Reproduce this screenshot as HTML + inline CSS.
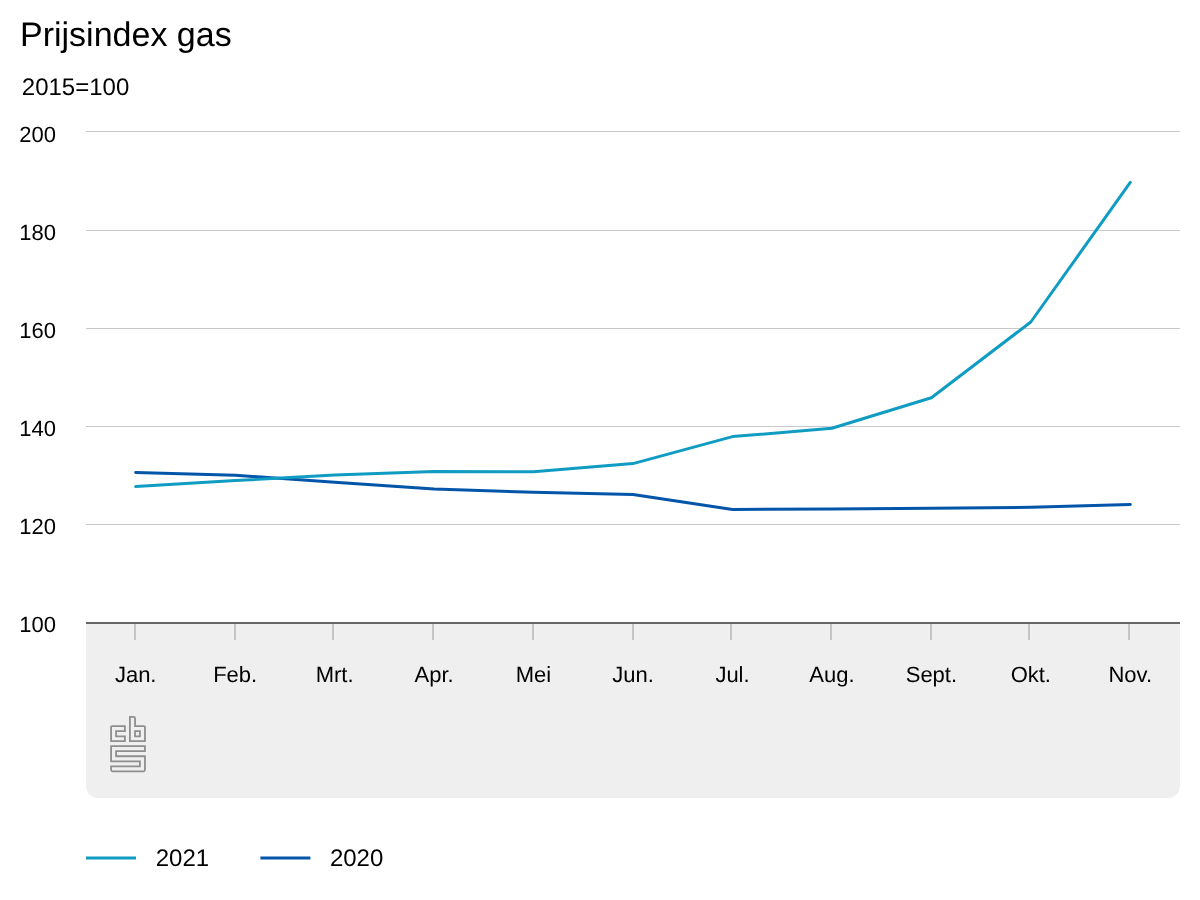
<!DOCTYPE html>
<html lang="nl">
<head>
<meta charset="utf-8">
<title>Prijsindex gas</title>
<style>
  html, body { margin: 0; padding: 0; background: #ffffff; }
  body { width: 1200px; height: 900px; overflow: hidden; position: relative;
         font-family: "Liberation Sans", sans-serif; }
  svg { position: absolute; left: 0; top: 0; display: block; will-change: transform; }
  text { font-family: "Liberation Sans", sans-serif; fill: #000000; text-rendering: geometricPrecision; }
  .title { font-size: 34px; }
  .sub { font-size: 24px; }
  .lbl { font-size: 22px; }
  .leg { font-size: 24px; }
  .grid line { stroke: #c8c8c8; stroke-width: 1; shape-rendering: crispEdges; }
  .ticks line { stroke: #c4c4c4; stroke-width: 2; shape-rendering: crispEdges; }
</style>
</head>
<body>
<svg width="1200" height="900" viewBox="0 0 1200 900">
  <rect x="0" y="0" width="1200" height="900" fill="#ffffff"/>

  <!-- title + subtitle -->
  <text class="title" x="20" y="45.5">Prijsindex gas</text>
  <text class="sub" x="21.8" y="95.2">2015=100</text>

  <!-- x-axis grey panel -->
  <path d="M86 622 H1180 V786 A12 12 0 0 1 1168 798 H98 A12 12 0 0 1 86 786 Z" fill="#efefef"/>



  <!-- horizontal grid lines -->
  <g class="grid">
    <line x1="86" x2="1180" y1="131.5" y2="131.5"/>
    <line x1="86" x2="1180" y1="230.5" y2="230.5"/>
    <line x1="86" x2="1180" y1="328.5" y2="328.5"/>
    <line x1="86" x2="1180" y1="426.5" y2="426.5"/>
    <line x1="86" x2="1180" y1="524.5" y2="524.5"/>
  </g>

  <!-- y labels -->
  <g class="lbl">
    <text x="19.2" y="141.6">200</text>
    <text x="19.2" y="239.6">180</text>
    <text x="19.2" y="337.6">160</text>
    <text x="19.2" y="435.7">140</text>
    <text x="19.2" y="533.7">120</text>
    <text x="19.2" y="631.7">100</text>
  </g>

  <!-- x ticks -->
  <g class="ticks">
    <line x1="135" x2="135" y1="624" y2="640"/>
    <line x1="235" x2="235" y1="624" y2="640"/>
    <line x1="333" x2="333" y1="624" y2="640"/>
    <line x1="433" x2="433" y1="624" y2="640"/>
    <line x1="533" x2="533" y1="624" y2="640"/>
    <line x1="633" x2="633" y1="624" y2="640"/>
    <line x1="731" x2="731" y1="624" y2="640"/>
    <line x1="831" x2="831" y1="624" y2="640"/>
    <line x1="931" x2="931" y1="624" y2="640"/>
    <line x1="1029" x2="1029" y1="624" y2="640"/>
    <line x1="1129" x2="1129" y1="624" y2="640"/>
  </g>

  <!-- axis line -->
  <rect x="86" y="622" width="1094" height="2" fill="#666666"/>

  <!-- x labels -->
  <g class="lbl" text-anchor="middle">
    <text x="135.7" y="682">Jan.</text>
    <text x="235.2" y="682">Feb.</text>
    <text x="334.6" y="682">Mrt.</text>
    <text x="434.1" y="682">Apr.</text>
    <text x="533.5" y="682">Mei</text>
    <text x="633.0" y="682">Jun.</text>
    <text x="732.5" y="682">Jul.</text>
    <text x="831.9" y="682">Aug.</text>
    <text x="931.4" y="682">Sept.</text>
    <text x="1030.8" y="682">Okt.</text>
    <text x="1130.3" y="682">Nov.</text>
  </g>


  <!-- CBS logo -->
  <g fill="none" stroke="#8e8e8e" stroke-width="1.8" stroke-linejoin="miter">
    <path d="M111.9 726.05 H124.9 V731.1 H116.1 V736.3 H124.9 V741.1 H111.1 V726.85 Q111.1 726.05 111.9 726.05 Z"/>
    <path d="M129.9 716.9 H133.5 Q135.05 716.9 135.05 718.4 V726.05 H144.05 Q144.95 726.05 144.95 726.95 V741.1 H129.9 Z M135.05 731.1 H139.9 V736.3 H135.05 Z" fill-rule="evenodd"/>
    <path d="M111.1 746.05 H144.95 V751.1 H116.1 V756.25 H144.95 V769.8 Q144.95 771.3 143.45 771.3 H112.6 Q111.1 771.3 111.1 769.8 V766.3 H139.9 V761.3 H111.1 Z"/>
  </g>

  <!-- series -->
  <g fill="none" stroke-width="3" stroke-linecap="round" stroke-linejoin="round">
    <polyline stroke="#0355a9" points="135.7,472.4 235.2,475.3 334.6,482.2 434.1,488.9 533.5,492.3 633.0,494.5 732.5,509.5 831.9,508.9 931.4,508.3 1030.8,507.3 1130.3,504.5"/>
    <polyline stroke="#109cc2" points="135.7,486.6 235.2,480.6 334.6,475.0 434.1,471.6 533.5,471.8 633.0,463.6 732.5,436.6 831.9,428.3 931.4,397.8 1030.8,322.0 1130.3,182.4"/>
  </g>

  <!-- legend -->
  <line x1="86" x2="136" y1="858" y2="858" stroke="#109cc2" stroke-width="3"/>
  <text class="leg" x="155.7" y="865.8">2021</text>
  <line x1="260.4" x2="310.4" y1="858" y2="858" stroke="#0355a9" stroke-width="3"/>
  <text class="leg" x="329.9" y="865.8">2020</text>
</svg>
</body>
</html>
